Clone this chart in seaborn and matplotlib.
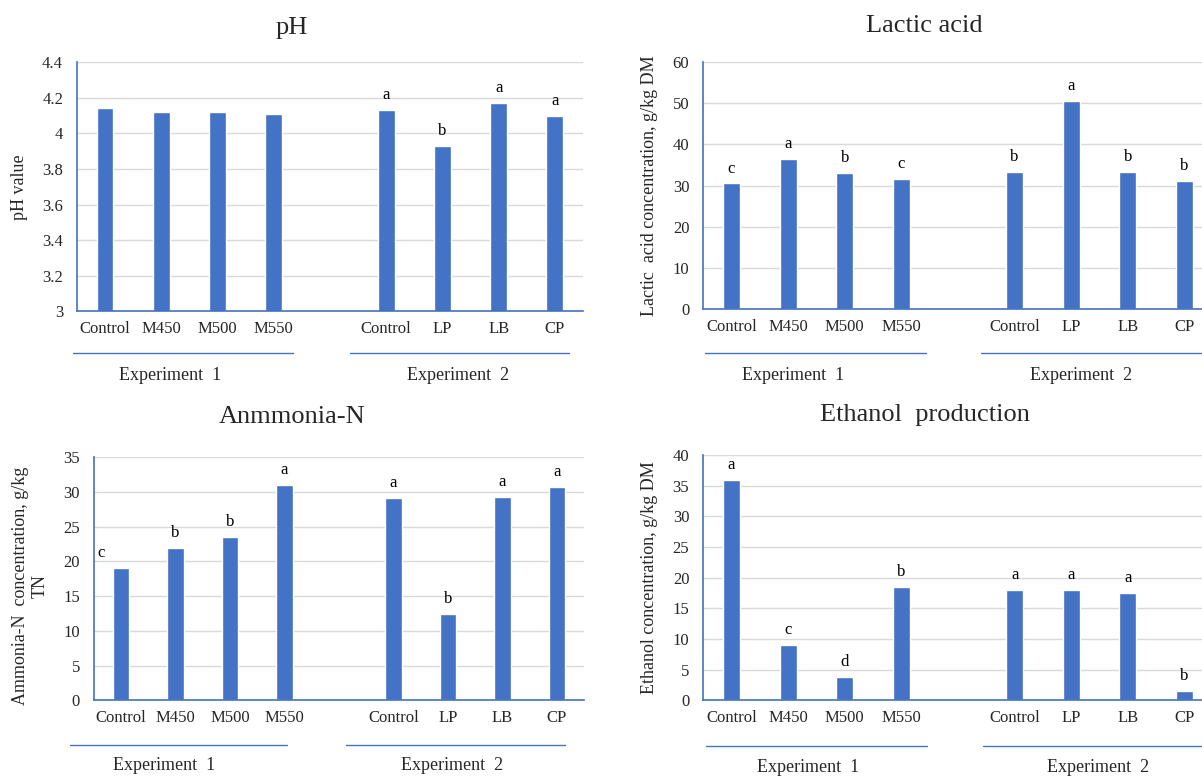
import numpy as np
import pandas as pd
import seaborn as sns
import matplotlib.pyplot as plt
from matplotlib.transforms import blended_transform_factory

sns.set_theme(style="white")
plt.rcParams['font.family'] = ['Liberation Serif', 'DejaVu Serif']

BLUE = '#4472C4'
TXT = '#262626'

# categories (9 slots, the 5th one is the empty gap between experiments)
slots = ['Control_1', 'M450', 'M500', 'M550', 'gap', 'Control_2', 'LP', 'LB', 'CP']
labels_top = ['Control', 'M450', 'M500', 'M550', '', 'Control', 'LP', 'LB', 'CP']

ph = [4.14, 4.12, 4.12, 4.11, np.nan, 4.13, 3.93, 4.17, 4.10]
ph_letters = ['', '', '', '', '', 'a', 'b', 'a', 'a']

lactic = [30.5, 36.5, 33.0, 31.5, np.nan, 33.3, 50.5, 33.3, 31.0]
lactic_letters = ['c', 'a', 'b', 'c', '', 'b', 'a', 'b', 'b']

ammonia = [19.0, 22.0, 23.6, 31.1, np.nan, 29.1, 12.4, 29.3, 30.8]
ammonia_letters = ['c', 'b', 'b', 'a', '', 'a', 'b', 'a', 'a']

ethanol = [35.9, 9.0, 3.8, 18.5, np.nan, 18.0, 18.0, 17.5, 1.5]
ethanol_letters = ['a', 'c', 'd', 'b', '', 'a', 'a', 'a', 'b']


def panel(ax, vals, letters, ylim, step, ylabel, ylab_xy, groups, line_y, lab_y, dx=None):
    df = pd.DataFrame({'slot': slots, 'value': vals})
    sns.barplot(data=df, x='slot', y='value', order=slots, color=BLUE,
                saturation=1, width=0.3, ax=ax, errorbar=None)
    ax.set_xlim(-0.5, 8.5)
    ax.set_ylim(*ylim)
    yt = np.arange(ylim[0], ylim[1] + step / 2, step)
    ax.set_yticks(yt)
    ax.set_yticklabels(['{:g}'.format(round(v, 2)) for v in yt], color=TXT, fontsize=12)
    # ticks at slot boundaries, labels at slot centres
    ax.set_xticks(np.arange(-0.5, 9, 1))
    ax.set_xticklabels([])
    ax.set_xticks(range(9), minor=True)
    ax.set_xticklabels(labels_top, minor=True, fontsize=12, color=TXT)
    ax.tick_params(axis='x', which='major', length=5, color=BLUE, width=1, direction='out')
    ax.tick_params(axis='x', which='minor', length=0, pad=7)
    ax.tick_params(axis='y', length=4, color=BLUE, width=1, direction='out', pad=6)
    ax.set_xlabel('')
    ax.set_ylabel(ylabel, fontsize=13, color=TXT)
    ax.yaxis.set_label_coords(*ylab_xy)
    ax.yaxis.grid(True, color='#D9D9D9', linewidth=1)
    ax.set_axisbelow(True)
    for s in ['top', 'right']:
        ax.spines[s].set_visible(False)
    for s in ['left', 'bottom']:
        ax.spines[s].set_color(BLUE)
        ax.spines[s].set_linewidth(1.2)

    if dx is None:
        dx = [0] * 9
    for i, (v, l) in enumerate(zip(vals, letters)):
        if l:
            ax.annotate(l, xy=(i, v), xytext=(dx[i], 5), textcoords='offset points',
                        ha='center', va='bottom', fontsize=12, color='black')

    tr = blended_transform_factory(ax.transData, ax.transAxes)
    for (x0, x1, xt), name in zip(groups, ['Experiment  1', 'Experiment  2']):
        ax.plot([x0, x1], [line_y, line_y], transform=tr, color=BLUE,
                linewidth=1, clip_on=False)
        ax.text(xt, lab_y, name, transform=tr, ha='center', va='center',
                fontsize=13, color=TXT)


fig = plt.figure(figsize=(12.02, 7.78), dpi=100)
ax1 = fig.add_axes([0.064, 0.600, 0.421, 0.320])
ax2 = fig.add_axes([0.585, 0.603, 0.424, 0.317])
ax3 = fig.add_axes([0.078, 0.100, 0.408, 0.312])
ax4 = fig.add_axes([0.585, 0.100, 0.424, 0.315])

panel(ax1, ph, ph_letters, (3, 4.4), 0.2, 'pH value', (-0.097, 0.5),
      [(-0.57, 3.34, 1.15), (4.36, 8.25, 6.28)], -0.169, -0.259)
panel(ax2, lactic, lactic_letters, (0, 60), 10,
      'Lactic  acid concentration, g/kg DM', (-0.089, 0.5),
      [(-0.46, 3.43, 1.08), (4.4, 8.3, 6.17)], -0.178, -0.271)
panel(ax3, ammonia, ammonia_letters, (0, 35), 5,
      'Ammonia-N  concentration, g/kg\nTN', (-0.092, 0.47),
      [(-0.94, 3.05, 0.79), (4.12, 8.14, 6.08)], -0.185, -0.267,
      dx=[-14, 0, 0, 0, 0, 0, 0, 0, 0])
panel(ax4, ethanol, ethanol_letters, (0, 40), 5,
      'Ethanol concentration, g/kg DM', (-0.089, 0.5),
      [(-0.45, 3.46, 1.36), (4.44, 8.33, 6.47)], -0.188, -0.273)

# panel titles
fig.text(292 / 1202, 1 - 28 / 778, 'pH', ha='center', va='center', fontsize=19)
fig.text(924 / 1202, 1 - 26 / 778, 'Lactic acid', ha='center', va='center', fontsize=19)
fig.text(292 / 1202, 1 - 417 / 778, 'Anmmonia-N', ha='center', va='center', fontsize=19)
fig.text(925 / 1202, 1 - 415 / 778, 'Ethanol  production', ha='center', va='center', fontsize=19)

fig.savefig('out.png', dpi=100)
